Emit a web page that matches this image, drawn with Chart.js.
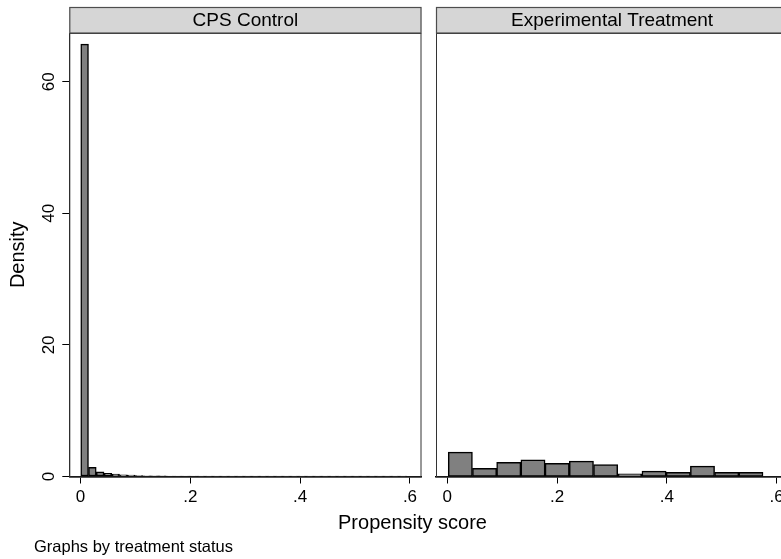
<!DOCTYPE html>
<html>
<head>
<meta charset="utf-8">
<script src="https://cdn.jsdelivr.net/npm/chart.js@4.4.1/dist/chart.umd.min.js"></script>
<style>
  html, body { margin: 0; padding: 0; background: #ffffff; overflow: hidden; width: 781px; height: 559px; }
  #wrap { position: relative; width: 781px; height: 559px; overflow: hidden; }
  #cLeft { position: absolute; left: 0; top: 0; }
  #cRight { position: absolute; left: 430px; top: 0; }
</style>
</head>
<body>
<div id="wrap">
  <canvas id="cLeft" width="781" height="559"></canvas>
  <canvas id="cRight" width="370" height="559"></canvas>
</div>
<script>
// ---------- data ----------
const panelTitles = ['CPS Control', 'Experimental Treatment'];
const xAxisTitle = 'Propensity score';
const yAxisTitle = 'Density';
const noteText = 'Graphs by treatment status';

const xTickValues = [0, 0.2, 0.4, 0.6];
const xTickLabels = ['0', '.2', '.4', '.6'];
const yTickValues = [0, 20, 40, 60];
const yTickLabels = ['0', '20', '40', '60'];

// CPS control: bin centres (propensity score) and density
const controlBins = [0.0075, 0.0216, 0.0358, 0.0499, 0.0640, 0.0782, 0.0923, 0.1065, 0.1206, 0.1347,
  0.1489, 0.1630, 0.1772, 0.1913, 0.2054, 0.2196, 0.2337, 0.2479, 0.2620, 0.2761,
  0.2903, 0.3044, 0.3186, 0.3327, 0.3468, 0.3610, 0.3751, 0.3893, 0.4034, 0.4175,
  0.4317, 0.4458, 0.4600, 0.4741, 0.4882, 0.5024, 0.5165, 0.5307, 0.5448, 0.5589,
  0.5731, 0.5872];
const controlDensity = [65.7, 1.4, 0.7, 0.5, 0.35, 0.25, 0.2, 0.15, 0.12, 0.1,
  0.09, 0.08, 0.08, 0.07, 0.07, 0.06, 0.06, 0.06, 0.05, 0.05,
  0.05, 0.05, 0.05, 0.05, 0.04, 0.04, 0.04, 0.04, 0.04, 0.04,
  0.04, 0.04, 0.04, 0.04, 0.04, 0.04, 0.04, 0.04, 0.04, 0.04,
  0.04, 0.04];

// Experimental treatment: bin centres and density
const treatBins = [0.0239, 0.0680, 0.1121, 0.1562, 0.2003, 0.2444, 0.2885, 0.3326, 0.3767, 0.4208, 0.4649, 0.5090, 0.5531];
const treatDensity = [3.70, 1.26, 2.17, 2.54, 2.02, 2.33, 1.83, 0.41, 0.81, 0.65, 1.57, 0.65, 0.65];

// ---------- styling ----------
const FONT = "'Liberation Sans', Arial, Helvetica, sans-serif";
Chart.defaults.font.family = FONT;
Chart.defaults.color = '#000000';

const X_MIN = -0.0204, X_MAX = 0.621, Y_MAX = 67.4;
const BAR_FILL = '#808080', BAR_LINE = '#000000';
const HEADER_FILL = '#d6d6d6', HEADER_LINE = '#4d4d4d', FRAME = '#333333';

function toPts(xs, ys) { return xs.map((x, i) => ({ x: x, y: ys[i] })); }

function panelPlugin(title, extra) {
  return {
    id: 'panel',
    beforeDatasetsDraw(chart) {
      const a = chart.chartArea, ctx = chart.ctx;
      ctx.save();
      ctx.strokeStyle = FRAME;
      ctx.lineWidth = 1;
      ctx.strokeRect(a.left + 0.5, a.top + 0.5, a.right - a.left - 1, a.bottom - a.top);
      ctx.restore();
    },
    afterDraw(chart) {
      const a = chart.chartArea, ctx = chart.ctx;
      ctx.save();
      // header strip
      ctx.fillStyle = HEADER_FILL;
      ctx.fillRect(a.left, 7, a.right - a.left, 26);
      ctx.strokeStyle = HEADER_LINE;
      ctx.lineWidth = 1.2;
      ctx.strokeRect(a.left + 0.5, 7.5, a.right - a.left - 1, 25.5);
      ctx.fillStyle = '#000';
      ctx.font = '19px ' + FONT;
      ctx.textAlign = 'center';
      ctx.textBaseline = 'middle';
      ctx.fillText(title, (a.left + a.right) / 2, 20.5);
      if (extra) extra(ctx);
      ctx.restore();
    }
  };
}

function xScale() {
  return {
    type: 'linear',
    min: X_MIN, max: X_MAX,
    offset: false,
    afterBuildTicks: s => { s.ticks = xTickValues.map(v => ({ value: v })); },
    afterFit: s => { s.height = 82.5; },
    ticks: {
      callback: (v) => { const i = xTickValues.indexOf(v); return i >= 0 ? xTickLabels[i] : ''; },
      font: { size: 17 },
      padding: 3.5,
      maxRotation: 0, minRotation: 0, autoSkip: false
    },
    grid: { offset: false, drawOnChartArea: false, drawTicks: true, tickLength: 7, color: '#000', tickWidth: 1 },
    border: { display: true, color: '#000', width: 1.5 }
  };
}

function yScaleCommon(display) {
  return {
    type: 'linear',
    min: 0, max: Y_MAX,
    display: display,
    afterBuildTicks: s => { s.ticks = yTickValues.map(v => ({ value: v })); },
    afterFit: s => { s.width = display ? 69.3 : 0; },
    ticks: {
      callback: (v) => { const i = yTickValues.indexOf(v); return i >= 0 ? yTickLabels[i] : ''; },
      font: { size: 17 },
      padding: 4,
      minRotation: 90, maxRotation: 90,
      crossAlign: 'center', autoSkip: false
    },
    grid: { drawOnChartArea: false, drawTicks: true, tickLength: 7, color: '#000', tickWidth: 1 },
    border: { display: true, color: '#222', width: 1 },
    title: { display: true, text: yAxisTitle, font: { size: 20 }, padding: { top: 6, bottom: 0 } }
  };
}

function dataset(xs, ys) {
  return {
    type: 'bar',
    data: toPts(xs, ys),
    backgroundColor: BAR_FILL,
    borderColor: BAR_LINE,
    borderWidth: 1.5,
    borderSkipped: false,
    barPercentage: 1.0,
    categoryPercentage: 1.0,
    grouped: false
  };
}

const commonOpts = {
  responsive: false,
  animation: false,
  devicePixelRatio: 1,
  plugins: { legend: { display: false }, tooltip: { enabled: false }, title: { display: false } }
};

// Left panel (CPS control) – also hosts shared axis title and note
new Chart(document.getElementById('cLeft'), {
  type: 'bar',
  data: { datasets: [dataset(controlBins, controlDensity)] },
  options: Object.assign({}, commonOpts, {
    layout: { padding: { left: 0, top: 33, right: 359.5, bottom: 0 } },
    scales: { x: xScale(), y: yScaleCommon(true) }
  }),
  plugins: [panelPlugin(panelTitles[0], (ctx) => {
    ctx.fillStyle = '#000';
    ctx.font = '20px ' + FONT;
    ctx.textAlign = 'center';
    ctx.textBaseline = 'middle';
    ctx.fillText(xAxisTitle, 412.5, 523);
    ctx.font = '16.5px ' + FONT;
    ctx.textAlign = 'left';
    ctx.fillText(noteText, 34, 547);
  })]
});

// Right panel (experimental treatment)
new Chart(document.getElementById('cRight'), {
  type: 'bar',
  data: { datasets: [dataset(treatBins, treatDensity)] },
  options: Object.assign({}, commonOpts, {
    layout: { padding: { left: 6, top: 33, right: 11.8, bottom: 0 } },
    scales: { x: xScale(), y: yScaleCommon(false) }
  }),
  plugins: [panelPlugin(panelTitles[1], null)]
});
</script>
</body>
</html>
